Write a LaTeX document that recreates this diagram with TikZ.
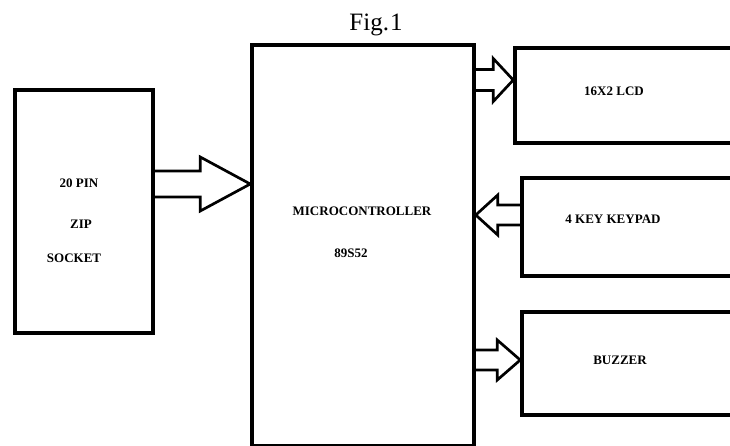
\documentclass[tikz,border=0pt]{standalone}
\usepackage{fontspec}
\setmainfont{Liberation Serif}
\usetikzlibrary{calc}

\tikzset{
  blk/.style={draw,line width=3.5pt,inner sep=0pt},
  lbl/.style={font=\fontsize{13}{15}\selectfont\bfseries,anchor=base,inner sep=0pt},
  % hollow block arrow: shaft half width, head half width, head length
  fat/.style n args={3}{line width=2.7pt,line join=miter,
    to path={($(\tikztostart)!#1!90:(\tikztotarget)$)
      -- ($(\tikztotarget)!#3!(\tikztostart)!#1!90:(\tikztotarget)$)
      -- ($(\tikztotarget)!#3!(\tikztostart)!#2!90:(\tikztotarget)$)
      -- (\tikztotarget)
      -- ($(\tikztotarget)!#3!(\tikztostart)!#2!-90:(\tikztotarget)$)
      -- ($(\tikztotarget)!#3!(\tikztostart)!#1!-90:(\tikztotarget)$)
      -- ($(\tikztostart)!#1!-90:(\tikztotarget)$)}}
}

\begin{document}
\begin{tikzpicture}[x=1pt,y=-1pt]
  \clip (0,0) rectangle (730,445);
  \fill[white] (0,0) rectangle (730,445);

  \node[font=\fontsize{25}{28}\selectfont,anchor=base,inner sep=0pt] (fig) at (376,30) {Fig.\kern1pt1};

  % blocks
  \node[blk,minimum width=138pt,minimum height=243pt] (zip) at (84,211.5) {};
  \node[blk,minimum width=222pt,minimum height=401pt] (mcu) at (363,245.5) {};
  \node[blk,minimum width=230pt,minimum height=95pt] (lcd) at (630,95.5) {};
  \node[blk,minimum width=223pt,minimum height=98pt] (key) at (633.5,227) {};
  \node[blk,minimum width=223pt,minimum height=103pt] (buz) at (633.5,363.5) {};

  % texts
  \node[lbl] (pin) at (79,187) {20 PIN};
  \node[lbl] (zipt) at (81,228) {ZIP};
  \node[lbl] (sock) at (74,262) {SOCKET};
  \node[lbl] (mcut) at (362,215) {MICROCONTROLLER};
  \node[lbl] (chip) at (351,257) {89S52};
  \node[lbl] (lcdt) at (614,95) {16X2 LCD};
  \node[lbl] (keyt) at (613,223) {4 KEY KEYPAD};
  \node[lbl] (buzt) at (620,364) {BUZZER};

  % arrows
  \draw[fat={13pt}{27pt}{50pt}] ([yshift=27.5pt]zip.east) to ([yshift=61.5pt]mcu.west);
  \draw[fat={10.5pt}{21.5pt}{20pt}] ([yshift=165.5pt]mcu.east) to ([yshift=15.5pt]lcd.west);
  \draw[fat={10pt}{20pt}{22pt}] ([yshift=12pt]key.west) to ([yshift=30.5pt]mcu.east);
  \draw[fat={10pt}{20pt}{23pt}] ([yshift=-114.5pt]mcu.east) to ([yshift=3.5pt]buz.west);
\end{tikzpicture}
\end{document}
